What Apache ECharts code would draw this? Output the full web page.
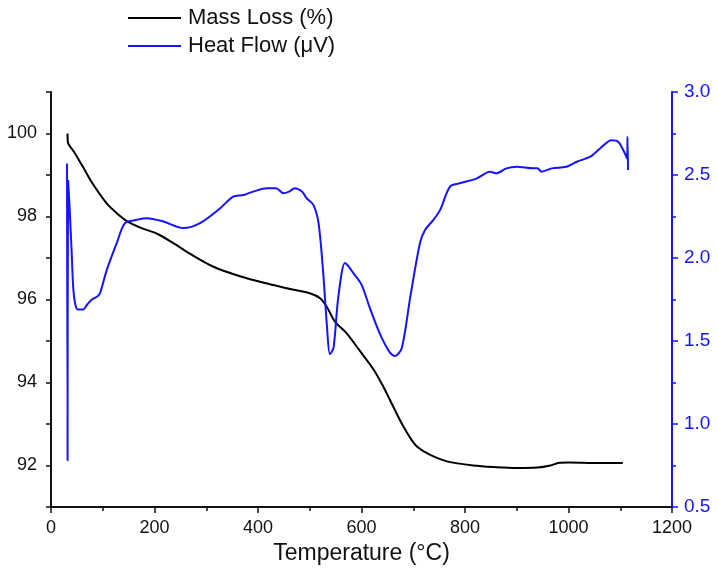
<!DOCTYPE html>
<html>
<head>
<meta charset="utf-8">
<script src="https://cdn.jsdelivr.net/npm/echarts@6/dist/echarts.min.js"></script>
<style>
html,body{margin:0;padding:0;background:#fff;}
#chart{width:717px;height:583px;}
</style>
</head>
<body>
<div id="chart"></div>
<script>
// Mass Loss (%) — left axis
const massTemp = [32, 32.5, 45, 62, 80, 108, 130, 149, 175, 204, 235, 269, 314, 365, 391, 420, 455, 500, 520, 533, 549, 571, 597, 623, 640, 655, 670, 681, 695, 707, 732, 765, 816, 860, 900, 940, 965, 980, 1000, 1050, 1105];
const massVal  = [100.0, 99.8, 99.55, 99.19, 98.8, 98.31, 98.05, 97.87, 97.72, 97.59, 97.37, 97.1, 96.79, 96.56, 96.47, 96.38, 96.27, 96.15, 96.03, 95.82, 95.46, 95.19, 94.76, 94.32, 93.95, 93.58, 93.2, 92.94, 92.65, 92.46, 92.26, 92.10, 92.0, 91.96, 91.94, 91.95, 92.0, 92.06, 92.07, 92.06, 92.06];

// Heat Flow (µV) — right axis
const heatTemp = [31, 32, 33, 36, 40, 43, 47, 52, 62, 70, 79, 90, 95, 108, 127, 143, 166, 185, 217, 256, 288, 327, 352, 372, 391, 417, 435, 449, 460, 471, 485, 494, 507, 517, 526, 533, 539, 546, 555, 568, 575, 584, 600, 616, 636, 655, 665, 678, 694, 713, 723, 739, 752, 771, 790, 823, 848, 861, 880, 900, 932, 940, 948, 968, 996, 1016, 1042, 1061, 1083, 1096, 1109, 1113, 1114, 1115];
const heatVal  = [2.57, 0.78, 2.47, 2.3, 2.03, 1.82, 1.72, 1.69, 1.69, 1.72, 1.75, 1.77, 1.79, 1.93, 2.09, 2.21, 2.23, 2.24, 2.22, 2.18, 2.21, 2.30, 2.37, 2.38, 2.40, 2.42, 2.42, 2.39, 2.40, 2.42, 2.40, 2.36, 2.32, 2.21, 1.91, 1.60, 1.42, 1.46, 1.76, 1.97, 1.95, 1.91, 1.84, 1.70, 1.54, 1.43, 1.41, 1.46, 1.76, 2.09, 2.17, 2.23, 2.29, 2.43, 2.45, 2.48, 2.52, 2.51, 2.54, 2.55, 2.54, 2.54, 2.52, 2.54, 2.55, 2.58, 2.61, 2.66, 2.71, 2.70, 2.63, 2.60, 2.73, 2.53];

const xTicks = [0, 200, 400, 600, 800, 1000, 1200];
const leftTicks = [92, 94, 96, 98, 100];
const rightTicks = [0.5, 1.0, 1.5, 2.0, 2.5, 3.0];

const massData = massTemp.map((t, i) => [t, massVal[i]]);
const heatData = heatTemp.map((t, i) => [t, heatVal[i]]);

const FONT = 'Liberation Sans, Arial, sans-serif';
const BLUE = '#1414ff';

const chart = echarts.init(document.getElementById('chart'));
chart.setOption({
  animation: false,
  backgroundColor: '#fff',
  grid: { left: 51, right: 45, top: 92, bottom: 76 },
  legend: {
    orient: 'vertical',
    left: 128,
    top: 7,
    padding: 0,
    itemGap: 6,
    itemWidth: 53,
    itemHeight: 2,
    icon: 'rect',
    textStyle: { fontFamily: FONT, fontSize: 22, color: '#111', lineHeight: 22, padding: [0, 0, 0, 2] },
    data: ['Mass Loss (%)', 'Heat Flow (μV)']
  },
  xAxis: {
    type: 'value',
    min: 0, max: 1200, interval: 200,
    name: 'Temperature (°C)',
    nameLocation: 'middle',
    nameGap: 31,
    nameTextStyle: { fontFamily: FONT, fontSize: 23, color: '#111' },
    axisLine: { onZero: false, lineStyle: { color: '#111', width: 2 } },
    axisTick: { length: 6, lineStyle: { color: '#111', width: 1.5 } },
    minorTick: { show: true, splitNumber: 2, length: 4, lineStyle: { color: '#111', width: 1.5 } },
    axisLabel: { fontFamily: FONT, fontSize: 18, color: '#111', margin: 12,
      formatter: v => (xTicks.indexOf(v) >= 0 ? String(v) : '') },
    splitLine: { show: false }
  },
  yAxis: [
    {
      type: 'value',
      min: 91, max: 101, interval: 1,
      axisLine: { show: true, lineStyle: { color: '#111', width: 2 } },
      axisTick: { show: true, length: 5, lineStyle: { color: '#111', width: 1.5 } },
      axisLabel: { fontFamily: FONT, fontSize: 18, color: '#111', margin: 14,
        formatter: v => (leftTicks.indexOf(v) >= 0 ? String(v) : '') },
      splitLine: { show: false }
    },
    {
      type: 'value',
      position: 'right',
      min: 0.5, max: 3.0, interval: 0.5,
      axisLine: { show: true, lineStyle: { color: BLUE, width: 2 } },
      axisTick: { show: true, length: 6, lineStyle: { color: BLUE, width: 1.5 } },
      minorTick: { show: true, splitNumber: 2, length: 4, lineStyle: { color: BLUE, width: 1.5 } },
      axisLabel: { fontFamily: FONT, fontSize: 19, color: BLUE, margin: 12,
        formatter: v => (rightTicks.indexOf(v) >= 0 ? v.toFixed(1) : '') },
      splitLine: { show: false }
    }
  ],
  series: [
    {
      name: 'Mass Loss (%)',
      type: 'line',
      yAxisIndex: 0,
      data: massData,
      showSymbol: false,
      symbol: 'none',
      smooth: 0.3,
      color: '#000',
      lineStyle: { color: '#000', width: 2 }
    },
    {
      name: 'Heat Flow (μV)',
      type: 'line',
      yAxisIndex: 1,
      data: heatData,
      showSymbol: false,
      symbol: 'none',
      smooth: 0.3,
      color: BLUE,
      lineStyle: { color: BLUE, width: 2 }
    }
  ]
});
</script>
</body>
</html>
